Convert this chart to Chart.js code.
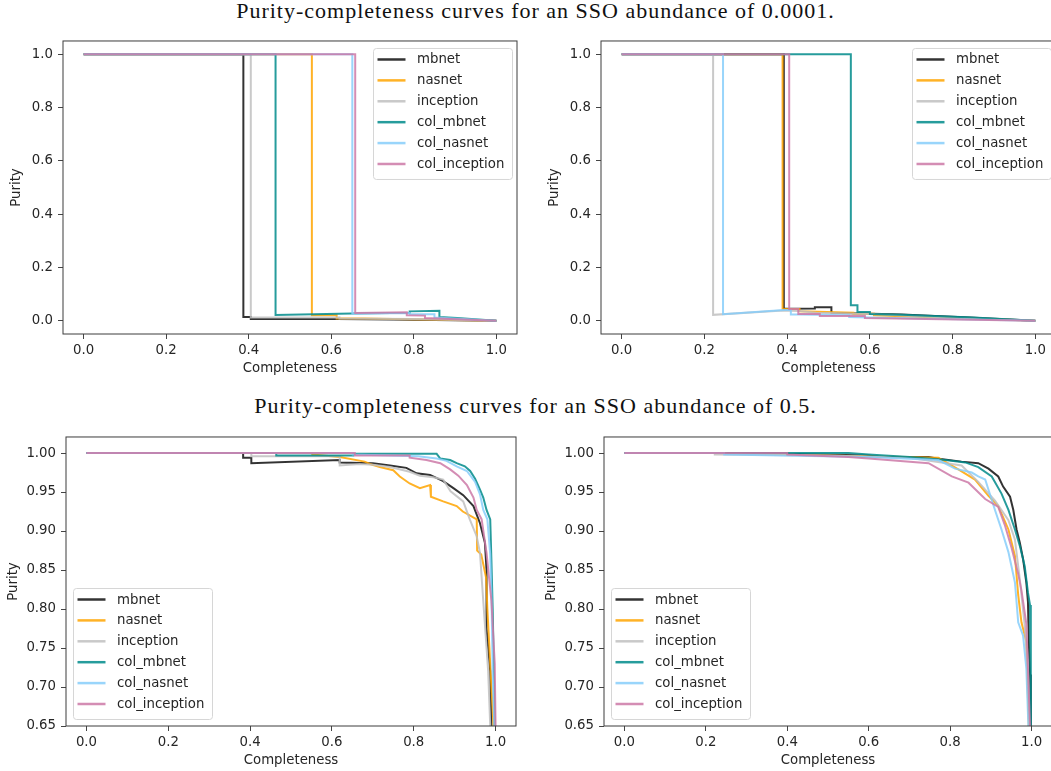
<!DOCTYPE html>
<html lang="en">
<head>
<meta charset="UTF-8">
<title>Purity-completeness curves</title>
<script src="https://cdn.jsdelivr.net/npm/chart.js"></script>
<style>
    html, body { margin: 0; padding: 0; background: #fff; }
    body { width: 1051px; height: 771px; overflow: hidden; position: relative; }
    .title {
        position: absolute; left: 0; width: 1071px; text-align: center;
        font-family: 'Liberation Serif', serif; font-size: 22px; line-height: 22px;
        letter-spacing: 1px; color: #111; white-space: nowrap;
    }
    .panel { position: absolute; }
</style>
</head>
<body>
<div class="title" style="top:0px">Purity-completeness curves for an SSO abundance of 0.0001.</div>
<div class="title" style="top:395px">Purity-completeness curves for an SSO abundance of 0.5.</div>
<div class="panel" id="wrapA"><canvas id="chartA"></canvas></div>
<div class="panel" id="wrapB"><canvas id="chartB"></canvas></div>
<div class="panel" id="wrapC"><canvas id="chartC"></canvas></div>
<div class="panel" id="wrapD"><canvas id="chartD"></canvas></div>

<script>
// series names, in legend order
const seriesNames = ['mbnet', 'nasnet', 'inception', 'col_mbnet', 'col_nasnet', 'col_inception'];

// tick values
const xTicks = [0, 0.2, 0.4, 0.6, 0.8, 1.0];
const yTicksLow = [0, 0.2, 0.4, 0.6, 0.8, 1.0];
const yTicksHigh = [0.65, 0.70, 0.75, 0.80, 0.85, 0.90, 0.95, 1.00];

// abundance 0.0001, left panel  ([completeness, purity])
const a_mbnet = [[0, 1], [0.387, 1], [0.387, 0.014], [0.405, 0.014], [0.405, 0.006], [0.613, 0.006], [0.75, 0.004], [1, 0]];
const a_nasnet = [[0, 1], [0.553, 1], [0.553, 0.02], [0.613, 0.02], [0.613, 0.008], [0.68, 0.008], [1, 0]];
const a_inception = [[0, 1], [0.405, 1], [0.405, 0.012], [0.62, 0.012], [0.62, 0.008], [0.8, 0.006], [1, 0]];
const a_col_mbnet = [[0, 1], [0.465, 1], [0.465, 0.021], [0.65, 0.027], [0.79, 0.03], [0.79, 0.035], [0.862, 0.037], [0.862, 0.014], [0.905, 0.01], [1, 0]];
const a_col_nasnet = [[0, 1], [0.651, 1], [0.651, 0.026], [0.79, 0.029], [0.79, 0.024], [0.85, 0.024], [0.85, 0.012], [1, 0]];
const a_col_inception = [[0, 1], [0.658, 1], [0.658, 0.029], [0.783, 0.032], [0.783, 0.02], [0.827, 0.019], [0.827, 0.01], [1, 0]];

// abundance 0.0001, right panel
const b_mbnet = [[0, 1], [0.392, 1], [0.392, 0.045], [0.467, 0.046], [0.467, 0.05], [0.507, 0.05], [0.507, 0.03], [0.677, 0.023], [0.758, 0.018], [0.84, 0.012], [1, 0]];
const b_nasnet = [[0, 1], [0.389, 1], [0.389, 0.045], [0.43, 0.044], [0.43, 0.035], [0.56, 0.03], [0.56, 0.026], [0.61, 0.026], [0.61, 0.02], [1, 0]];
const b_inception = [[0, 1], [0.221, 1], [0.221, 0.022], [0.39, 0.038], [0.43, 0.036], [0.47, 0.03], [0.6, 0.025], [0.75, 0.015], [1, 0]];
const b_col_mbnet = [[0, 1], [0.554, 1], [0.554, 0.058], [0.57, 0.058], [0.57, 0.033], [0.6, 0.033], [0.6, 0.025], [0.677, 0.022], [0.85, 0.012], [1, 0]];
const b_col_nasnet = [[0, 1], [0.245, 1], [0.245, 0.024], [0.393, 0.04], [0.409, 0.04], [0.409, 0.023], [0.43, 0.023], [0.55, 0.02], [0.55, 0.014], [0.6, 0.012], [1, 0]];
const b_col_inception = [[0, 1], [0.405, 1], [0.405, 0.044], [0.427, 0.044], [0.427, 0.025], [0.479, 0.025], [0.479, 0.018], [0.588, 0.018], [0.588, 0.01], [1, 0]];

// abundance 0.5, left panel
const c_mbnet = [[0, 1], [0.383, 1], [0.383, 0.994], [0.403, 0.994], [0.403, 0.987], [0.619, 0.991], [0.619, 0.988], [0.70, 0.987], [0.742, 0.984], [0.782, 0.981], [0.807, 0.974], [0.84, 0.972], [0.872, 0.964], [0.897, 0.955], [0.921, 0.946], [0.946, 0.932], [0.962, 0.91], [0.974, 0.885], [0.978, 0.85], [0.978, 0.775], [0.987, 0.72], [0.99, 0.65]];
const c_nasnet = [[0, 1], [0.552, 1], [0.552, 0.998], [0.619, 0.995], [0.68, 0.989], [0.693, 0.986], [0.717, 0.982], [0.75, 0.978], [0.766, 0.97], [0.79, 0.961], [0.815, 0.955], [0.84, 0.959], [0.842, 0.944], [0.872, 0.938], [0.905, 0.932], [0.92, 0.925], [0.954, 0.915], [0.955, 0.875], [0.965, 0.87], [0.977, 0.84], [0.98, 0.80], [0.988, 0.72], [0.995, 0.65]];
const c_inception = [[0, 1], [0.403, 1], [0.403, 0.996], [0.619, 0.996], [0.619, 0.984], [0.668, 0.986], [0.70, 0.985], [0.742, 0.982], [0.79, 0.976], [0.815, 0.971], [0.848, 0.969], [0.872, 0.966], [0.89, 0.951], [0.921, 0.938], [0.937, 0.915], [0.954, 0.893], [0.962, 0.872], [0.97, 0.81], [0.982, 0.72], [0.987, 0.65]];
const c_col_mbnet = [[0, 1], [0.464, 1], [0.464, 0.997], [0.652, 0.997], [0.652, 0.999], [0.856, 0.999], [0.865, 0.993], [0.889, 0.991], [0.905, 0.987], [0.925, 0.983], [0.938, 0.977], [0.95, 0.967], [0.962, 0.953], [0.97, 0.943], [0.978, 0.927], [0.987, 0.915], [0.99, 0.86], [0.993, 0.80], [0.996, 0.72], [0.998, 0.65]];
const c_col_nasnet = [[0, 1], [0.651, 1], [0.651, 0.998], [0.811, 0.996], [0.856, 0.993], [0.88, 0.99], [0.905, 0.983], [0.93, 0.977], [0.95, 0.963], [0.962, 0.947], [0.97, 0.927], [0.98, 0.915], [0.987, 0.87], [0.99, 0.82], [0.993, 0.72], [0.997, 0.65]];
const c_col_inception = [[0, 1], [0.656, 1], [0.656, 0.997], [0.79, 0.997], [0.79, 0.994], [0.831, 0.991], [0.865, 0.987], [0.889, 0.979], [0.909, 0.971], [0.93, 0.959], [0.946, 0.943], [0.954, 0.927], [0.966, 0.915], [0.978, 0.872], [0.99, 0.81], [0.998, 0.73], [1.0, 0.65]];

// abundance 0.5, right panel
const d_mbnet = [[0, 1], [0.4, 1], [0.4, 0.999], [0.6, 0.997], [0.625, 0.995], [0.747, 0.995], [0.767, 0.993], [0.828, 0.989], [0.869, 0.987], [0.894, 0.98], [0.918, 0.97], [0.93, 0.957], [0.947, 0.944], [0.955, 0.927], [0.963, 0.902], [0.971, 0.885], [0.979, 0.864], [0.987, 0.834], [0.991, 0.809], [0.993, 0.758], [0.996, 0.716], [0.998, 0.65]];
const d_nasnet = [[0, 1], [0.25, 1], [0.25, 0.999], [0.6, 0.996], [0.771, 0.994], [0.82, 0.979], [0.861, 0.966], [0.894, 0.945], [0.918, 0.932], [0.943, 0.902], [0.959, 0.868], [0.967, 0.818], [0.975, 0.783], [0.987, 0.758], [0.993, 0.65]];
const d_inception = [[0, 1], [0.222, 1], [0.222, 0.998], [0.5, 0.997], [0.7, 0.994], [0.828, 0.984], [0.869, 0.963], [0.91, 0.939], [0.943, 0.914], [0.959, 0.889], [0.971, 0.838], [0.983, 0.779], [0.991, 0.72], [0.996, 0.65]];
const d_col_mbnet = [[0, 1], [0.55, 1], [0.6, 0.998], [0.7, 0.995], [0.788, 0.991], [0.837, 0.988], [0.869, 0.982], [0.902, 0.97], [0.926, 0.948], [0.943, 0.927], [0.959, 0.902], [0.971, 0.881], [0.983, 0.855], [0.991, 0.821], [0.996, 0.805], [0.998, 0.65]];
const d_col_nasnet = [[0, 1], [0.245, 1], [0.245, 0.998], [0.6, 0.995], [0.771, 0.991], [0.812, 0.98], [0.853, 0.975], [0.869, 0.97], [0.886, 0.966], [0.91, 0.927], [0.926, 0.902], [0.943, 0.873], [0.959, 0.834], [0.967, 0.783], [0.979, 0.766], [0.987, 0.724], [0.992, 0.65]];
const d_col_inception = [[0, 1], [0.4, 1], [0.4, 0.998], [0.55, 0.995], [0.6, 0.993], [0.747, 0.987], [0.804, 0.97], [0.845, 0.962], [0.886, 0.941], [0.918, 0.931], [0.934, 0.908], [0.951, 0.878], [0.967, 0.845], [0.975, 0.824], [0.987, 0.781], [0.996, 0.65]];

// line colours (matplotlib-like, slightly transparent)
const seriesColors = [
    'rgba(0, 0, 0, 0.8)',
    'rgba(255, 165, 0, 0.85)',
    'rgba(192, 192, 192, 0.85)',
    'rgba(0, 139, 139, 0.85)',
    'rgba(135, 206, 250, 0.85)',
    'rgba(204, 121, 167, 0.85)'
];

Chart.defaults.font.family = '"DejaVu Sans", sans-serif';
Chart.defaults.font.size = 13.3;
Chart.defaults.color = '#262626';

const Y_AXIS_W = 63, X_AXIS_H = 52, PAD_TOP = 10, PAD_RIGHT = 12;

// full box round the plot area, like matplotlib spines
const framePlugin = {
    id: 'axesFrame',
    afterDatasetsDraw(chart) {
        const { ctx, chartArea: a } = chart;
        ctx.save();
        ctx.strokeStyle = '#3c3c3c';
        ctx.lineWidth = 1;
        ctx.strokeRect(a.left, a.top, a.right - a.left, a.bottom - a.top);
        ctx.restore();
    }
};

// legend drawn inside the axes
const legendPlugin = {
    id: 'boxLegend',
    afterDraw(chart, args, opts) {
        const { ctx, chartArea: a } = chart;
        const w = 139, h = 131, row = 20.9;
        const upper = opts.corner === 'upper right';
        const x0 = upper ? a.right - 5 - w : a.left + 7;
        const y0 = upper ? a.top + 7 : a.bottom - 7 - h;
        ctx.save();
        ctx.beginPath();
        if (ctx.roundRect) ctx.roundRect(x0 + 0.5, y0 + 0.5, w, h, 3);
        else ctx.rect(x0 + 0.5, y0 + 0.5, w, h);
        ctx.fillStyle = 'rgba(255, 255, 255, 0.8)';
        ctx.fill();
        ctx.strokeStyle = '#d6d6d6';
        ctx.lineWidth = 1;
        ctx.stroke();
        ctx.font = '13.3px "DejaVu Sans"';
        ctx.textBaseline = 'alphabetic';
        chart.data.datasets.forEach((ds, i) => {
            const cy = y0 + 11.5 + i * row;
            ctx.strokeStyle = ds.borderColor;
            ctx.lineWidth = 2.5;
            ctx.beginPath();
            ctx.moveTo(x0 + 4.5, cy);
            ctx.lineTo(x0 + 32.5, cy);
            ctx.stroke();
            ctx.fillStyle = '#262626';
            ctx.fillText(ds.label, x0 + 44, cy + 4);
        });
        ctx.restore();
    }
};

function makePanel(id, box, series, yMin, yMax, yTicks, yDigits, corner, yTitlePad) {
    const wrap = document.getElementById('wrap' + id);
    wrap.style.left = (box.L - Y_AXIS_W) + 'px';
    wrap.style.top = (box.T - PAD_TOP) + 'px';
    wrap.style.width = (box.R - box.L + Y_AXIS_W + PAD_RIGHT) + 'px';
    wrap.style.height = (box.B - box.T + PAD_TOP + X_AXIS_H) + 'px';

    return new Chart(document.getElementById('chart' + id), {
        type: 'line',
        data: {
            datasets: series.map((pts, i) => ({
                label: seriesNames[i],
                data: pts.map(p => ({ x: p[0], y: p[1] })),
                borderColor: seriesColors[i],
                borderWidth: 2,
                pointRadius: 0,
                fill: false,
                tension: 0,
                // later series on top, as in matplotlib
                order: series.length - i
            }))
        },
        options: {
            responsive: true,
            maintainAspectRatio: false,
            animation: false,
            layout: { padding: { top: PAD_TOP, right: PAD_RIGHT, left: 0, bottom: 0 } },
            plugins: {
                legend: { display: false },
                tooltip: { enabled: false },
                boxLegend: { corner: corner }
            },
            scales: {
                x: {
                    type: 'linear',
                    min: -0.05,
                    max: 1.05,
                    afterBuildTicks: s => { s.ticks = xTicks.map(v => ({ value: v })); },
                    afterFit: s => { s.height = X_AXIS_H; },
                    ticks: { callback: v => v.toFixed(1), maxRotation: 0, autoSkip: false, padding: 4 },
                    grid: { display: true, drawOnChartArea: false, drawTicks: true, tickLength: 5, tickColor: '#444' },
                    border: { display: false },
                    title: { display: true, text: 'Completeness', padding: { top: 0, bottom: 9 }, font: { lineHeight: 1.2 } }
                },
                y: {
                    type: 'linear',
                    min: yMin,
                    max: yMax,
                    afterBuildTicks: s => { s.ticks = yTicks.map(v => ({ value: v })); },
                    afterFit: s => { s.width = Y_AXIS_W; },
                    ticks: { callback: v => v.toFixed(yDigits), autoSkip: false, padding: 5 },
                    grid: { display: true, drawOnChartArea: false, drawTicks: true, tickLength: 5, tickColor: '#444' },
                    border: { display: false },
                    title: { display: true, text: 'Purity', padding: { top: yTitlePad, bottom: 0 }, font: { lineHeight: 1.2 } }
                }
            }
        },
        plugins: [framePlugin, legendPlugin]
    });
}

makePanel('A', { L: 63, T: 38, R: 517, B: 334 },
    [a_mbnet, a_nasnet, a_inception, a_col_mbnet, a_col_nasnet, a_col_inception],
    -0.05, 1.05, yTicksLow, 1, 'upper right', 9);
makePanel('B', { L: 601, T: 38, R: 1056, B: 334 },
    [b_mbnet, b_nasnet, b_inception, b_col_mbnet, b_col_nasnet, b_col_inception],
    -0.05, 1.05, yTicksLow, 1, 'upper right', 9);
makePanel('C', { L: 66, T: 434, R: 516, B: 726 },
    [c_mbnet, c_nasnet, c_inception, c_col_mbnet, c_col_nasnet, c_col_inception],
    0.65, 1.0206, yTicksHigh, 2, 'lower left', 3);
makePanel('D', { L: 604, T: 434, R: 1052, B: 726 },
    [d_mbnet, d_nasnet, d_inception, d_col_mbnet, d_col_nasnet, d_col_inception],
    0.65, 1.0206, yTicksHigh, 2, 'lower left', 3);
</script>
</body>
</html>
